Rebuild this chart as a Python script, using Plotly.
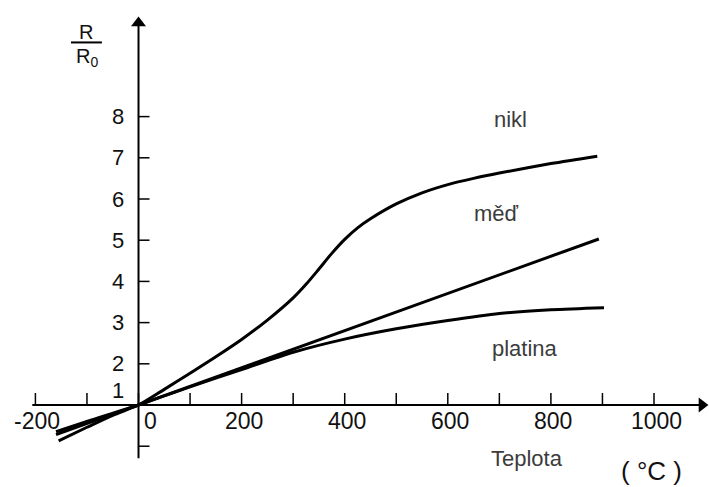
import plotly.graph_objects as go

# ---- data ----
temp_nikl = [-155, -100, -50, 0, 50, 100, 150, 200, 250, 300, 325, 350, 375, 400, 425, 450, 500, 550, 600, 650, 700, 800, 890]
ratio_nikl = [0.13, 0.46, 0.75, 1.0, 1.38, 1.77, 2.17, 2.59, 3.06, 3.6, 3.93, 4.3, 4.68, 5.02, 5.3, 5.52, 5.88, 6.15, 6.35, 6.5, 6.63, 6.86, 7.04]

temp_med = [-160, 0, 893]
ratio_med = [0.28, 1.0, 5.03]

temp_platina = [-160, -100, 0, 100, 200, 300, 400, 500, 600, 700, 800, 903]
ratio_platina = [0.35, 0.60, 1.0, 1.44, 1.86, 2.28, 2.6, 2.85, 3.05, 3.22, 3.31, 3.36]

x_ticks = list(range(-200, 1001, 100))
x_label_vals = [-200, 0, 200, 400, 600, 800, 1000]
x_label_text = ["-200", "0", "200", "400", "600", "800", "1000"]

y_ticks = [0, 1, 2, 3, 4, 5, 6, 7, 8]
y_label_vals = [1, 2, 3, 4, 5, 6, 7, 8]
y_label_text = ["1", "2", "3", "4", "5", "6", "7", "8"]

series_names = ["nikl", "měď", "platina"]

# ---- figure ----
FONT = "Liberation Sans, Arial, sans-serif"
fig = go.Figure()
line_style = dict(color="black", width=3)
fig.add_trace(go.Scatter(x=temp_nikl, y=ratio_nikl, mode="lines",
                         line=dict(shape="spline", smoothing=0.8, **line_style), name=series_names[0]))
fig.add_trace(go.Scatter(x=temp_med, y=ratio_med, mode="lines", line=line_style, name=series_names[1]))
fig.add_trace(go.Scatter(x=temp_platina, y=ratio_platina, mode="lines",
                         line=dict(shape="spline", smoothing=0.8, **line_style), name=series_names[2]))

shapes = []
annotations = []

# axis lines
X_END, Y_TOP = 1105, 10.42
shapes.append(dict(type="line", xref="x", yref="y", x0=-206, x1=X_END - 8, y0=1, y1=1,
                   line=dict(color="black", width=2)))
shapes.append(dict(type="line", xref="x", yref="y", x0=0, x1=0, y0=-0.29, y1=Y_TOP - 0.2,
                   line=dict(color="black", width=2)))
# arrow heads
fig.add_trace(go.Scatter(x=[X_END - 12], y=[1], mode="markers", hoverinfo="skip",
                         marker=dict(symbol="triangle-right", size=13, color="black")))
fig.add_trace(go.Scatter(x=[0], y=[Y_TOP - 0.15], mode="markers", hoverinfo="skip",
                         marker=dict(symbol="triangle-up", size=13, color="black")))

# x ticks (upward from axis at y=1)
for t in x_ticks:
    shapes.append(dict(type="line", xref="x", yref="y", x0=t, x1=t, ysizemode="pixel", yanchor=1, y0=0, y1=12,
                       line=dict(color="black", width=1.5)))
# y ticks (to the right of axis at x=0)
for t in y_ticks:
    shapes.append(dict(type="line", xref="x", yref="y", y0=t, y1=t, xsizemode="pixel", xanchor=0, x0=0, x1=11,
                       line=dict(color="black", width=1.5)))

# x tick labels
for v, s in zip(x_label_vals, x_label_text):
    annotations.append(dict(x=v, y=1, xref="x", yref="y", text=s, showarrow=False,
                            xanchor="left" if v == 0 else "center", yanchor="middle",
                            xshift=3 if v == 0 else 2, yshift=-16,
                            font=dict(family=FONT, size=23, color="#111")))
# y tick labels
for v, s in zip(y_label_vals, y_label_text):
    annotations.append(dict(x=0, y=v, xref="x", yref="y", text=s, showarrow=False,
                            xanchor="right", yanchor="middle", xshift=-13, yshift=15 if v == 1 else 0,
                            font=dict(family=FONT, size=22, color="#111")))

# R / R0 label
annotations.append(dict(x=-102, y=10.05, xref="x", yref="y", text="R", showarrow=False,
                        xanchor="center", yanchor="middle", font=dict(family=FONT, size=20, color="#111")))
annotations.append(dict(x=-100, y=9.43, xref="x", yref="y", text="R<sub>0</sub>", showarrow=False,
                        xanchor="center", yanchor="middle", font=dict(family=FONT, size=20, color="#111")))
shapes.append(dict(type="line", xref="x", yref="y", x0=-131, x1=-71, y0=9.8, y1=9.8,
                   line=dict(color="black", width=2)))

# series labels
label_pos = [(722, 7.94), (695, 5.64), (750, 2.36)]
for (lx, ly), name in zip(label_pos, series_names):
    annotations.append(dict(x=lx, y=ly, xref="x", yref="y", text=name, showarrow=False,
                            xanchor="center", yanchor="middle", font=dict(family=FONT, size=22, color="#3c3c3c")))

# axis title
annotations.append(dict(x=754, y=-0.29, xref="x", yref="y", text="Teplota", showarrow=False,
                        xanchor="center", yanchor="middle", font=dict(family=FONT, size=22, color="#3c3c3c")))
annotations.append(dict(x=996, y=-0.6, xref="x", yref="y", text="( °C )", showarrow=False,
                        xanchor="center", yanchor="middle", font=dict(family=FONT, size=26, color="#111")))

fig.update_layout(
    width=709, height=487,
    margin=dict(l=0, r=0, t=0, b=0),
    paper_bgcolor="white", plot_bgcolor="white",
    showlegend=False,
    xaxis=dict(range=[-268.7, 1106.7], showgrid=False, zeroline=False, showticklabels=False, ticks="",
               showline=False, fixedrange=True),
    yaxis=dict(range=[-0.99, 10.83], showgrid=False, zeroline=False, showticklabels=False, ticks="",
               showline=False, fixedrange=True),
    shapes=shapes,
    annotations=annotations,
)

fig.write_html("out.html")
